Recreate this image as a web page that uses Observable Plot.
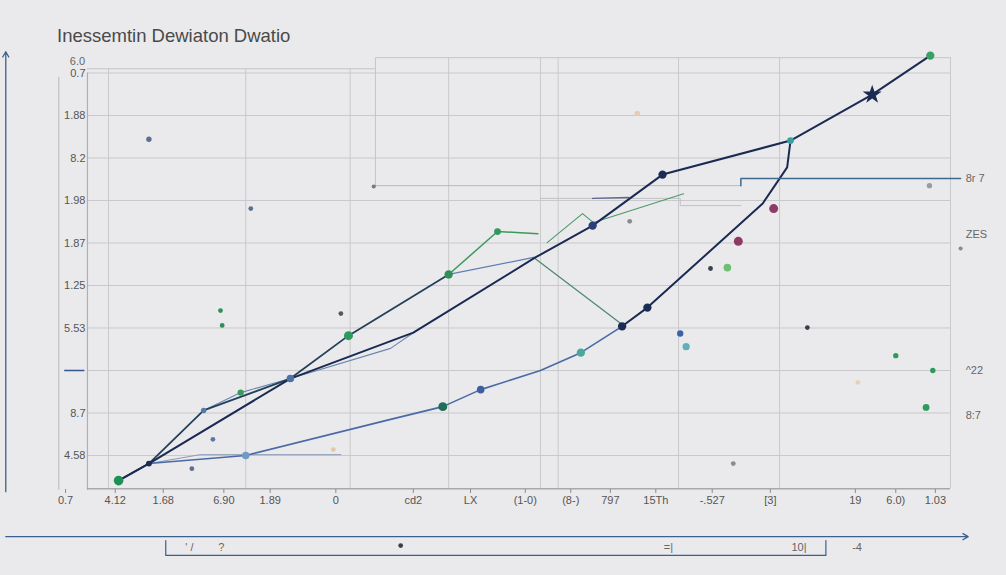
<!DOCTYPE html>
<html>
<head>
<meta charset="utf-8">
<script src="https://cdn.jsdelivr.net/npm/d3@7"></script>
<script src="https://cdn.jsdelivr.net/npm/@observablehq/plot@0.6"></script>
<style>
  html, body { margin: 0; padding: 0; background: #eaeaec; width: 1006px; height: 575px; overflow: hidden; }
  #title { height: 50px; box-sizing: border-box; padding: 26px 0 0 57px; font: 18.5px "Liberation Sans", Arial, sans-serif; color: #4a4a4a; line-height: 20px; }
  svg { display: block; background: #eaeaec; }
</style>
</head>
<body>
<div id="title">Inessemtin Dewiaton Dwatio</div>
<div id="chart"></div>
<script>
// ---- tick values and labels ----
const xTickPos = [-5.1, 0.8, 6.5, 13.7, 19.2, 27.0, 36.2, 43.0, 49.5, 54.9, 59.6, 65.0, 71.7, 78.6, 88.7, 93.5, 98.2];
const xTickLabels = ["0.7", "4.12", "1.68", "6.90", "1.89", "0", "cd2", "LX", "(1-0)", "(8-)", "797", "15Th", "-.527", "[3]", "19", "6.0)", "1.03"];
const yTickPos = [0, 1, 2, 3, 4, 5, 6, 7, 8, 9];
const yTickLabels = ["4.58", "8.7", "", "5.53", "1.25", "1.87", "1.98", "8.2", "1.88", "0.7"];
const gridXLeft = [0, 16.3, 28.7];
const gridXRight = [40.4, 51.3, 53.4, 67.7, 79.7, 100];

// ---- line series ([x, y]) ----
const navyMain = [[1.2,-0.59],[4.8,-0.19],[21.6,1.81],[36.2,2.89],[50.7,4.66],[57.5,5.41],[65.8,6.61],[81.0,7.41],[90.7,8.49],[97.6,9.41]];
const darkGreenUpper = [[1.2,-0.59],[4.8,-0.19],[11.3,1.06],[21.6,1.81],[28.5,2.82],[40.4,4.26]];
const greenUpper = [[40.4,4.26],[46.2,5.27],[51.0,5.22]];
const steelThin = [[11.3,1.06],[15.7,1.48],[21.6,1.81],[33.5,2.52],[36.2,2.89]];
const blueLower = [[4.8,-0.19],[16.3,0.0],[33.5,0.85],[39.7,1.15],[44.2,1.55],[51.3,2.0],[56.1,2.42],[61.0,3.04]];
const navyLower = [[61.0,3.04],[64.0,3.48],[77.7,5.93],[80.6,6.78],[81.0,7.41]];
const steelMid = [[40.4,4.26],[50.5,4.66]];
const greenArc = [[50.5,4.66],[60.8,3.11]];
const greenThin = [[52.1,5.01],[56.3,5.69],[57.6,5.48],[68.3,6.16]];
const darkShort = [[57.5,6.05],[61.8,6.07]];
const blueFlat = [[75.1,6.35],[75.1,6.52],[101.2,6.52]];
const grayThin = [[4.8,-0.19],[10.9,0.02],[27.6,0.02]];
const boxOutline = [[31.7,6.35],[31.7,9.36],[100,9.36]];
const boxLower = [[31.7,6.35],[75.1,6.35]];
const boxStep = [[51.3,6.05],[67.9,6.05],[67.9,5.88],[75.1,5.88]];

// ---- markers on lines ([x, y, r, color]) ----
const markers = [
  [1.2,-0.59,8,"#1f8f55"],[4.8,-0.19,3,"#1c2d55"],[21.6,1.81,5,"#4d72a8"],
  [28.5,2.82,7,"#2e9a5e"],[40.4,4.26,6,"#2e8f58"],[46.2,5.27,4,"#2e9a5e"],
  [57.5,5.41,6,"#2c3d7a"],[65.8,6.61,6,"#1c2d55"],[81.0,7.41,4,"#39a0a0"],
  [97.6,9.41,6,"#37a065"],[16.3,0.0,5,"#6f9cc4"],[39.7,1.15,7,"#1f6e57"],
  [44.2,1.55,5,"#3e5f9e"],[56.1,2.42,6,"#4aa89b"],[61.0,3.04,6,"#1c2d55"],
  [64.0,3.48,6,"#1c2d55"],[11.3,1.06,2.5,"#5a78a8"],[15.7,1.48,3.5,"#3a9a5a"]
];
const starMarker = [[90.7,8.49]];

// ---- scattered dots ([x, y, r, color]) ----
const scatter = [
  [4.8,7.44,2.5,"#5d6f8f"],[31.5,6.33,1.5,"#7a7a80"],[16.9,5.81,2,"#5d6f8f"],
  [13.3,3.41,2,"#2e8f58"],[13.5,3.06,2,"#2e8f58"],[27.6,3.34,2,"#55585f"],
  [12.4,0.38,2,"#5a78a8"],[9.9,-0.31,2,"#5d6f8f"],[26.7,0.14,2,"#e0c8a8"],
  [74.8,5.04,7,"#8e3a66"],[79.0,5.81,7,"#8e3a66"],[73.5,4.42,5,"#6cc070"],
  [71.5,4.40,2,"#3a3f4a"],[68.6,2.56,4.5,"#5fb0b8"],[67.9,2.87,3.5,"#3e62a8"],
  [61.9,5.51,2,"#8a8a90"],[83.0,3.01,2,"#3a3f4a"],[93.5,2.35,2.5,"#2e9a5e"],
  [97.9,2.0,2.5,"#2e9a5e"],[97.1,1.13,4,"#2e9a5e"],[89.0,1.72,2,"#e6d2bc"],
  [74.2,-0.19,2,"#8a8a90"],[97.5,6.35,2.5,"#9a9aa0"],[101.2,4.87,1.5,"#8a8a90"],
  [62.8,8.05,2.5,"#e6cdb0"],[34.7,-2.12,2,"#3a3f4a"]
];

// ---- free text labels ([x, y, text]) ----
const sideLabels = [[101.8,6.52,"8r 7"],[101.8,5.2,"ZES"],[101.8,2.0,"^22"],[101.8,0.95,"8:7"],[-4.6,9.28,"6.0"]];
const bracketLabels = [[9.6,-2.16,"' /"],[13.4,-2.16,"?"],[66.5,-2.16,"=|"],[82.0,-2.16,"10|"],[88.9,-2.16,"-4"]];
const bracket = [[6.8,-2.0],[6.8,-2.35],[85.2,-2.35],[85.2,-2.0]];

const yLab = new Map(yTickPos.map((v, i) => [v, yTickLabels[i]]));
const xLab = new Map(xTickPos.map((v, i) => [v, xTickLabels[i]]));
const pts = a => a.map(([x, y]) => ({x, y}));

const chart = Plot.plot({
  width: 1006,
  height: 525,
  marginLeft: 108,
  marginRight: 56,
  marginTop: 14,
  marginBottom: 86,
  style: {background: "#eaeaec", fontFamily: "'Liberation Sans', Arial, sans-serif"},
  x: {domain: [0, 100]},
  y: {domain: [-0.8, 9.2]},
  marks: [
    // grid
    Plot.ruleY(yTickPos, {x1: -2.5, x2: 100, stroke: "#c9c9cd", strokeWidth: 1}),
    Plot.ruleX(gridXLeft, {y1: -0.78, y2: 9.1, stroke: "#c9c9cd", strokeWidth: 1}),
    Plot.ruleX(gridXRight, {y1: -0.78, y2: 9.36, stroke: "#c9c9cd", strokeWidth: 1}),
    Plot.ruleY([9.1], {x1: -2.5, x2: 31.7, stroke: "#c4c4c8"}),
    Plot.line(pts(boxOutline), {x: "x", y: "y", stroke: "#c4c4c8", strokeWidth: 1}),
    Plot.line(pts(boxLower), {x: "x", y: "y", stroke: "#b8b8bc", strokeWidth: 1}),
    Plot.line(pts(boxStep), {x: "x", y: "y", stroke: "#c0c0c4", strokeWidth: 1}),
    Plot.ruleX([-2.5], {y1: -0.82, y2: 9.0, stroke: "#b0b0b4", strokeWidth: 1.2}),
    Plot.ruleX([-5.9], {y1: -0.82, y2: 8.9, stroke: "#b8b8bc", strokeWidth: 1}),
    Plot.ruleY([-0.78], {x1: -2.5, x2: 100, stroke: "#a8a8ac", strokeWidth: 1.5}),
    Plot.ruleY([2], {x1: -5.2, x2: -2.8, stroke: "#34558b", strokeWidth: 1.5}),
    // outer axes with arrows
    Plot.arrow([{x1: -12.2, y1: -0.85, x2: -12.2, y2: 9.5}], {x1: "x1", y1: "y1", x2: "x2", y2: "y2", stroke: "#3d5f8e", strokeWidth: 1.3, headLength: 7}),
    Plot.arrow([{x1: -12.2, y1: -1.91, x2: 102.1, y2: -1.91}], {x1: "x1", y1: "y1", x2: "x2", y2: "y2", stroke: "#3d5f8e", strokeWidth: 1.3, headLength: 7}),
    Plot.line(pts(bracket), {x: "x", y: "y", stroke: "#3d5f8e", strokeWidth: 1.2}),
    // series lines
    Plot.line(pts(grayThin), {x: "x", y: "y", stroke: "#8d9cb4", strokeWidth: 1}),
    Plot.line(pts(steelThin), {x: "x", y: "y", stroke: "#6a86b0", strokeWidth: 1.1}),
    Plot.line(pts(blueLower), {x: "x", y: "y", stroke: "#4a6aa5", strokeWidth: 1.6}),
    Plot.line(pts(navyLower), {x: "x", y: "y", stroke: "#1a2a52", strokeWidth: 2}),
    Plot.line(pts(steelMid), {x: "x", y: "y", stroke: "#5f7fb0", strokeWidth: 1.3}),
    Plot.line(pts(greenArc), {x: "x", y: "y", stroke: "#4f8a70", strokeWidth: 1.3}),
    Plot.line(pts(greenThin), {x: "x", y: "y", stroke: "#4a9a6a", strokeWidth: 1.1}),
    Plot.line(pts(darkShort), {x: "x", y: "y", stroke: "#5a6a8a", strokeWidth: 1.5}),
    Plot.line(pts(blueFlat), {x: "x", y: "y", stroke: "#3d6a8f", strokeWidth: 1.5}),
    Plot.line(pts(darkGreenUpper), {x: "x", y: "y", stroke: "#23405a", strokeWidth: 1.8}),
    Plot.line(pts(greenUpper), {x: "x", y: "y", stroke: "#3a9a5a", strokeWidth: 1.5}),
    Plot.line(pts(navyMain), {x: "x", y: "y", stroke: "#1a2a52", strokeWidth: 2}),
    // dots
    Plot.dot(scatter, {x: d => d[0], y: d => d[1], r: d => d[2], fill: d => d[3], stroke: null}),
    Plot.dot(markers, {x: d => d[0], y: d => d[1], r: d => d[2], fill: d => d[3], stroke: null}),
    Plot.dot(starMarker, {x: d => d[0], y: d => d[1], r: 6, symbol: "star", fill: "#1a2a52"}),
    // axes
    Plot.axisY({ticks: yTickPos, tickFormat: d => yLab.get(d), tickSize: 0, tickPadding: 23, fontSize: 11, fill: "#555", label: null}),
    Plot.axisX({ticks: xTickPos, tickFormat: d => xLab.get(d), tickSize: 4, tickPadding: 3, fontSize: 11, fill: "#555", stroke: "#8a8a90", label: null}),
    // extra text
    Plot.text(sideLabels, {x: d => d[0], y: d => d[1], text: d => d[2], textAnchor: "start", fontSize: 11, fill: "#666"}),
    Plot.text(bracketLabels, {x: d => d[0], y: d => d[1], text: d => d[2], fontSize: 11, fill: "#666"})
  ]
});
document.getElementById("chart").append(chart);
</script>
</body>
</html>
